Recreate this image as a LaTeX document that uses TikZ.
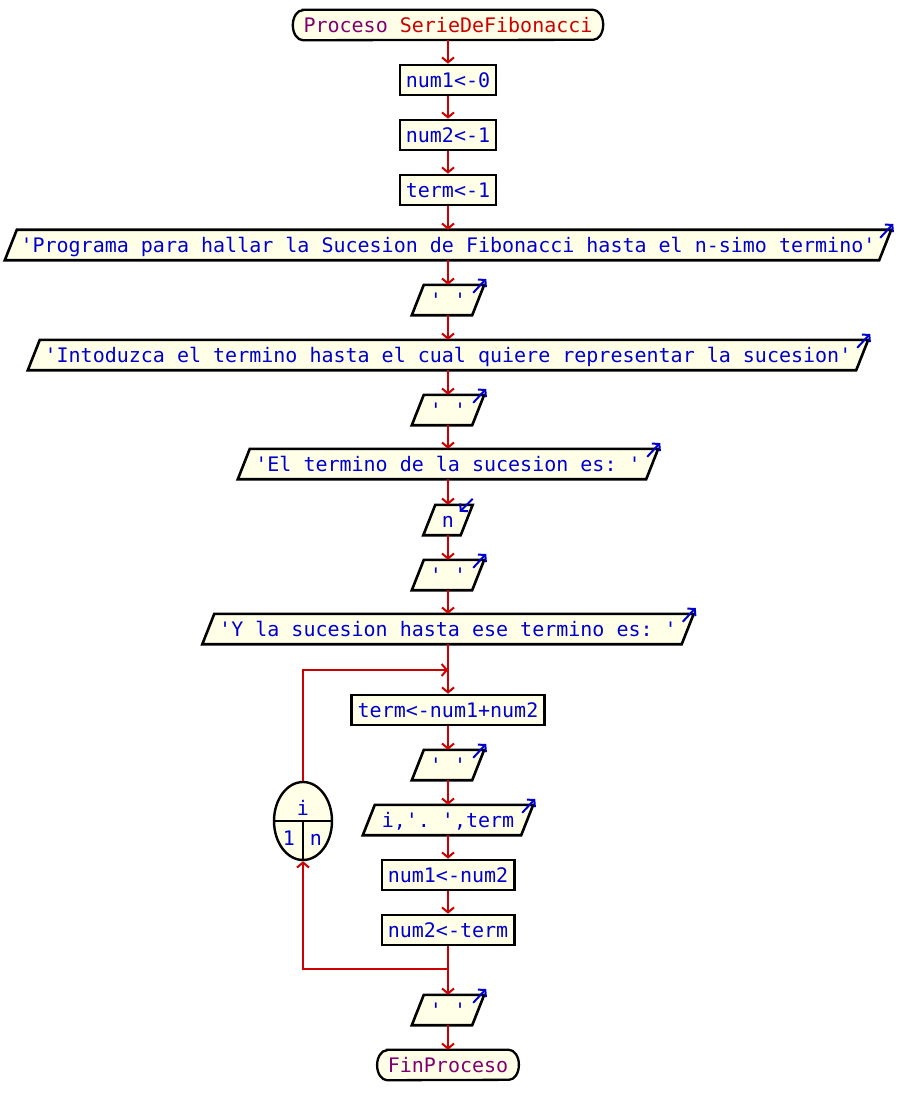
\documentclass[tikz,border=0pt]{standalone}
\usepackage{fontspec}
\setmonofont{DejaVu Sans Mono}
\usetikzlibrary{arrows.meta,calc,backgrounds,shapes.geometric}
\definecolor{cream}{RGB}{255,255,232}
\definecolor{flowred}{RGB}{204,0,0}
\definecolor{codeblue}{RGB}{0,0,204}
\definecolor{kwpurple}{RGB}{128,0,112}
\definecolor{namered}{RGB}{204,0,0}
\begin{document}
\begin{tikzpicture}[x=1pt,y=-1pt,
  font=\ttfamily\fontsize{20}{24}\selectfont,
  txt/.style={text height=17pt,text depth=2pt,inner ysep=0pt,text=codeblue},
  assign/.style={txt,rectangle,draw=black,line width=2.6pt,fill=cream,
    inner xsep=6pt,minimum height=30pt},
  io/.style={txt,rectangle,inner xsep=0pt,minimum height=30pt,minimum width=#1},
  terminal/.style={txt,rectangle,inner xsep=10.5pt,minimum height=30pt,text=kwpurple},
  shapeline/.style={draw=black,line width=2.6pt,fill=cream,line join=miter},
  flow/.style={draw=flowred,line width=2pt,-{Straight Barb[length=5pt,width=12pt]}},
  ioarrow/.style={draw=codeblue,line width=2pt,-{Straight Barb[length=5pt,width=11pt]}},
  looplbl/.style={anchor=base,inner sep=0pt,text=codeblue}
]
\useasboundingbox (0,0) rectangle (896,1115);

% ---- nodes of the main sequence ----
\node[terminal] (start) at (448,25) {Proceso \textcolor{namered}{SerieDeFibonacci}};
\node[assign] (a1) at (448,80) {num1<-0};
\node[assign] (a2) at (448,135) {num2<-1};
\node[assign] (a3) at (448,190) {term<-1};
\node[io=874] (o1) at (448,245) {'Programa para hallar la Sucesion de Fibonacci hasta el n-simo termino'};
\node[io=60] (o2) at (448,300) {' '};
\node[io=828] (o3) at (448,355) {'Intoduzca el termino hasta el cual quiere representar la sucesion'};
\node[io=60] (o4) at (448,410) {' '};
\node[io=408] (o5) at (448,464) {'El termino de la sucesion es: '};
\node[io=37] (i1) at (448,520) {n};
\node[io=60] (o6) at (448,575) {' '};
\node[io=479] (o7) at (448,629) {'Y la sucesion hasta ese termino es: '};
\coordinate (join) at (448,670);
\node[assign] (b1) at (448,710) {term<-num1+num2};
\node[io=60] (o8) at (448,765) {' '};
\node[io=158] (o9) at (448,820) {i,'. ',term};
\node[assign] (b2) at (448,875) {num1<-num2};
\node[assign] (b3) at (448,930) {num2<-term};
\coordinate (split) at (448,969);
\node[io=60] (o10) at (448,1010) {' '};
\node[terminal] (end) at (448,1065) {FinProceso};

% ---- loop header: counter i from 1 to n ----
\node[ellipse,draw=black,line width=2.4pt,fill=cream,minimum width=58pt,
  minimum height=78pt,inner sep=0pt] (loop) at (303,821) {};
\draw[line width=2.4pt] (loop.west) -- (loop.east);
\draw[line width=2.4pt] (loop.center) -- (loop.south);
\node[looplbl] (lv) at (303,815) {i};
\node[looplbl] (lf) at (289,845) {1};
\node[looplbl] (lt) at (316,845) {n};

% ---- shapes behind the texts ----
\begin{scope}[on background layer]
  \fill[white] (0,0) rectangle (896,1115);
  \foreach \n in {o1,o2,o3,o4,o5,i1,o6,o7,o8,o9,o10}
    \draw[shapeline] ($(\n.south west)+(-6,0)$) -- ($(\n.south east)+(-6,0)$)
      -- ($(\n.north east)+(6,0)$) -- ($(\n.north west)+(6,0)$) -- cycle;
  \foreach \n in {start,end}
    \draw[shapeline,line width=2.3pt] ($(\n.north west)+(10,0)$) -- ($(\n.north east)+(-10,0)$)
      arc[start angle=90,end angle=-90,x radius=10pt,y radius=15pt]
      -- ($(\n.south west)+(10,0)$)
      arc[start angle=270,end angle=90,x radius=10pt,y radius=15pt] -- cycle;
\end{scope}

% ---- output markers ----
\foreach \n in {o1,o2,o3,o4,o5,o6,o7,o8,o9,o10}
  \draw[ioarrow] ($(\n.north east)+(-5,8)$) -- ($(\n.north east)+(8,-6)$);
% ---- input marker ----
\draw[ioarrow] ($(i1.north east)+(6,-6)$) -- ($(i1.north east)+(-7,7)$);

% ---- flow connectors ----
\draw[flow] (start) -- (a1);
\draw[flow] (a1) -- (a2);
\draw[flow] (a2) -- (a3);
\draw[flow] (a3) -- (o1);
\draw[flow] (o1) -- (o2);
\draw[flow] (o2) -- (o3);
\draw[flow] (o3) -- (o4);
\draw[flow] (o4) -- (o5);
\draw[flow] (o5) -- (i1);
\draw[flow] (i1) -- (o6);
\draw[flow] (o6) -- (o7);
\draw[flow] (o7) -- (b1);
\draw[flow] (loop.north) |- (join);
\draw[flow] (b1) -- (o8);
\draw[flow] (o8) -- (o9);
\draw[flow] (o9) -- (b2);
\draw[flow] (b2) -- (b3);
\draw[flow] (b3) -- (o10);
\draw[flow] (split) -| (loop.south);
\draw[flow] (o10) -- (end);
\end{tikzpicture}
\end{document}
